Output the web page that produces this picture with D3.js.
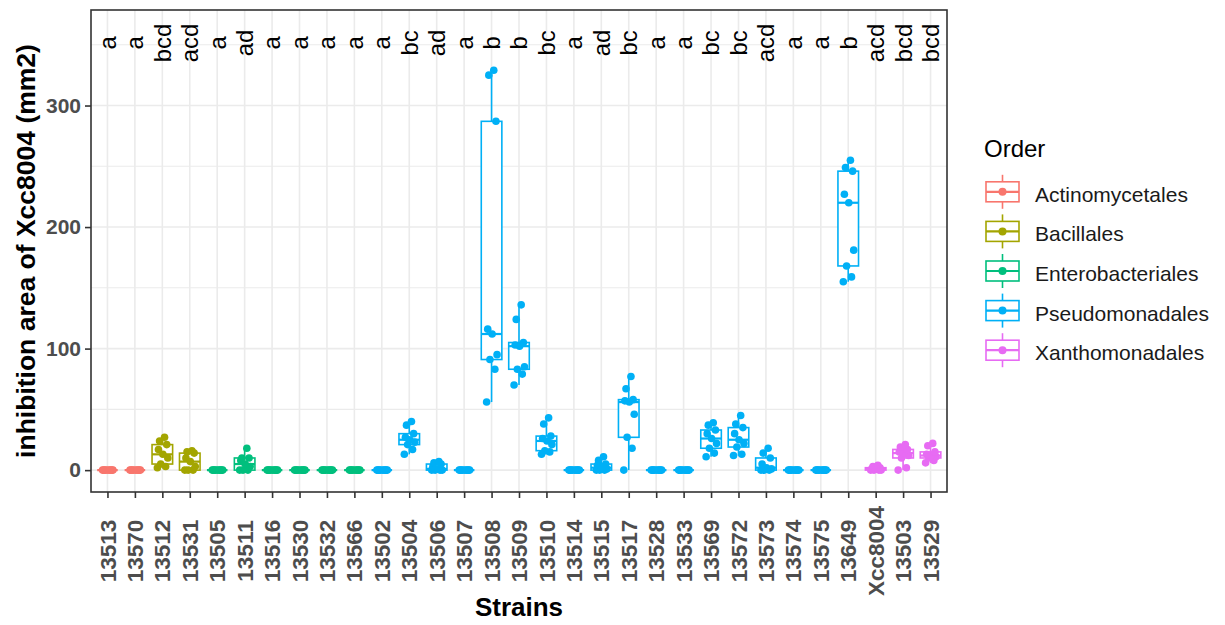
<!DOCTYPE html>
<html>
<head>
<meta charset="utf-8">
<script src="https://cdn.jsdelivr.net/npm/d3@7"></script>
<style>
  html, body { margin: 0; padding: 0; background: #fff; }
  svg { display: block; font-family: "Liberation Sans", Arial, sans-serif; }
</style>
</head>
<body>
<svg id="chart" width="1225" height="625"></svg>
<script>
// ---- data ----
const strains = ["13513","13570","13512","13531","13505","13511","13516","13530","13532","13566",
  "13502","13504","13506","13507","13508","13509","13510","13514","13515","13517","13528","13533",
  "13569","13572","13573","13574","13575","13649","Xcc8004","13503","13529"];
const strainOrder = ["Actinomycetales","Actinomycetales","Bacillales","Bacillales",
  "Enterobacteriales","Enterobacteriales","Enterobacteriales","Enterobacteriales","Enterobacteriales","Enterobacteriales",
  "Pseudomonadales","Pseudomonadales","Pseudomonadales","Pseudomonadales","Pseudomonadales","Pseudomonadales",
  "Pseudomonadales","Pseudomonadales","Pseudomonadales","Pseudomonadales","Pseudomonadales","Pseudomonadales",
  "Pseudomonadales","Pseudomonadales","Pseudomonadales","Pseudomonadales","Pseudomonadales","Pseudomonadales",
  "Xanthomonadales","Xanthomonadales","Xanthomonadales"];
const inhibition = [
  [0,0,0,0,0,0,0,0,0],                 // 13513
  [0,0,0,0,0,0,0,0,0],                 // 13570
  [2,3,5,10,13,17,21,24,27],           // 13512
  [0,0,0,3,7,10,14,15,16],             // 13531
  [0,0,0,0,0,0,0,0,0],                 // 13505
  [0,0,0,3,5,8,10,10,18],              // 13511
  [0,0,0,0,0,0,0,0,0],                 // 13516
  [0,0,0,0,0,0,0,0,0],                 // 13530
  [0,0,0,0,0,0,0,0,0],                 // 13532
  [0,0,0,0,0,0,0,0,0],                 // 13566
  [0,0,0,0,0,0,0,0,0],                 // 13502
  [13,17,21,23,25,27,30,37,40],        // 13504
  [0,0,0,0,1,3,5,6,7],                 // 13506
  [0,0,0,0,0,0,0,0,0],                 // 13507
  [56,83,91,95,112,116,287,325,329],   // 13508
  [70,79,83,85,102,103,105,124,136],   // 13509
  [13,15,16,21,24,26,28,38,43],        // 13510
  [0,0,0,0,0,0,0,0,0],                 // 13514
  [0,0,0,1,2,4,5,8,11],                // 13515
  [0,18,27,46,56,57,58,67,77],         // 13517
  [0,0,0,0,0,0,0,0,0],                 // 13528
  [0,0,0,0,0,0,0,0,0],                 // 13533
  [11,14,18,22,26,30,33,37,39],        // 13569
  [12,13,19,22,25,30,35,38,45],        // 13572
  [0,0,0,1,2,5,10,14,18],              // 13573
  [0,0,0,0,0,0,0,0,0],                 // 13574
  [0,0,0,0,0,0,0,0,0],                 // 13575
  [155,159,168,181,220,227,246,249,255], // 13649
  [0,0,0,0,1,1,2,3,4],                 // Xcc8004
  [0,2,10,12,14,15,17,19,21],          // 13503
  [6,8,10,11,12,13,15,20,22]           // 13529
];
const groupLetters = ["a","a","bcd","acd","a","ad","a","a","a","a","a","bc","ad","a","b","b","bc","a","ad","bc",
  "a","a","bc","bc","acd","a","a","b","acd","bcd","bcd"];
const orderNames = ["Actinomycetales","Bacillales","Enterobacteriales","Pseudomonadales","Xanthomonadales"];
const orderColors = ["#F8766D","#A3A500","#00BF7D","#00B0F6","#E76BF3"];
const yTicks = [0,100,200,300];
const yMinorTicks = [50,150,250,350];
const letterY = 351.5;
const jitterPattern = [-0.18,0.12,-0.06,0.2,0.02,-0.14,0.16,-0.1,0.08];

// ---- layout ----
const panel = {left: 91, right: 947, top: 10, bottom: 492};
const svg = d3.select("#chart");
const x = d3.scalePoint().domain(strains).range([panel.left, panel.right]).padding(0.6);
const step = x.step();
const y = d3.scaleLinear().domain([-18, 378.6]).range([panel.bottom, panel.top]);
const color = d3.scaleOrdinal().domain(orderNames).range(orderColors);

// panel background
svg.append("rect").attr("x", panel.left).attr("y", panel.top)
  .attr("width", panel.right - panel.left).attr("height", panel.bottom - panel.top).attr("fill", "#fff");

// grid
const grid = svg.append("g");
grid.selectAll("line.ymin").data(yMinorTicks).join("line")
  .attr("x1", panel.left).attr("x2", panel.right)
  .attr("y1", d => y(d)).attr("y2", d => y(d))
  .attr("stroke", "#EBEBEB").attr("stroke-width", 1.1);
grid.selectAll("line.ymaj").data(yTicks).join("line")
  .attr("x1", panel.left).attr("x2", panel.right)
  .attr("y1", d => y(d)).attr("y2", d => y(d))
  .attr("stroke", "#EBEBEB").attr("stroke-width", 1.6);
grid.selectAll("line.xmaj").data(strains).join("line")
  .attr("x1", d => x(d)).attr("x2", d => x(d))
  .attr("y1", panel.top).attr("y2", panel.bottom)
  .attr("stroke", "#EBEBEB").attr("stroke-width", 1.6);

// box stats
function stats(vals) {
  const s = vals.slice().sort(d3.ascending);
  const q1 = d3.quantile(s, 0.25), med = d3.quantile(s, 0.5), q3 = d3.quantile(s, 0.75);
  const iqr = q3 - q1;
  const lo = d3.min(s.filter(v => v >= q1 - 1.5 * iqr));
  const hi = d3.max(s.filter(v => v <= q3 + 1.5 * iqr));
  const out = s.filter(v => v < lo || v > hi);
  return {q1, med, q3, lo, hi, out};
}

const boxW = step * 0.75;
const boxes = svg.append("g");
strains.forEach((st, i) => {
  const c = color(strainOrder[i]);
  const s = stats(inhibition[i]);
  const cx = x(st);
  const g = boxes.append("g").attr("stroke", c).attr("stroke-width", 1.6).attr("fill", "#fff");
  g.append("line").attr("x1", cx).attr("x2", cx).attr("y1", y(s.q3)).attr("y2", y(s.hi));
  g.append("line").attr("x1", cx).attr("x2", cx).attr("y1", y(s.q1)).attr("y2", y(s.lo));
  g.append("rect").attr("x", cx - boxW / 2).attr("width", boxW)
    .attr("y", y(s.q3)).attr("height", Math.max(0, y(s.q1) - y(s.q3)));
  g.append("line").attr("x1", cx - boxW / 2).attr("x2", cx + boxW / 2)
    .attr("y1", y(s.med)).attr("y2", y(s.med)).attr("stroke-width", 2.2);
  g.selectAll("circle").data(s.out).join("circle")
    .attr("cx", cx).attr("cy", d => y(d)).attr("r", 3.8).attr("fill", c).attr("stroke", "none");
});

// jittered points
const pts = svg.append("g");
strains.forEach((st, i) => {
  const c = color(strainOrder[i]);
  pts.selectAll(null).data(inhibition[i]).join("circle")
    .attr("cx", (d, j) => x(st) + jitterPattern[j % jitterPattern.length] * step)
    .attr("cy", d => y(d)).attr("r", 3.8).attr("fill", c);
});

// letters
svg.append("g").selectAll("text").data(strains).join("text")
  .attr("transform", d => `translate(${x(d)},${y(letterY)}) rotate(-90)`)
  .attr("text-anchor", "middle").attr("dy", "0.35em")
  .attr("font-size", 24).attr("fill", "#000")
  .text((d, i) => groupLetters[i]);

// panel border
svg.append("rect").attr("x", panel.left).attr("y", panel.top)
  .attr("width", panel.right - panel.left).attr("height", panel.bottom - panel.top)
  .attr("fill", "none").attr("stroke", "#333333").attr("stroke-width", 1.6);

// y axis
const yAxis = svg.append("g").attr("transform", `translate(${panel.left},0)`)
  .call(d3.axisLeft(y).tickValues(yTicks).tickSize(6).tickPadding(4).tickFormat(d3.format("d")));
yAxis.select(".domain").remove();
yAxis.selectAll(".tick line").attr("stroke", "#333333").attr("stroke-width", 1.6);
yAxis.selectAll(".tick text").attr("font-size", 21).attr("font-weight", "bold")
  .attr("fill", "#4D4D4D").attr("font-family", "Liberation Sans, Arial, sans-serif");

// x axis
const xAxis = svg.append("g").attr("transform", `translate(0,${panel.bottom})`)
  .call(d3.axisBottom(x).tickSize(6).tickFormat(""));
xAxis.select(".domain").remove();
xAxis.selectAll(".tick line").attr("stroke", "#333333").attr("stroke-width", 1.6);
svg.append("g").selectAll("text").data(strains).join("text")
  .attr("transform", d => `translate(${x(d)},551) rotate(-90)`)
  .attr("text-anchor", "middle").attr("dy", "0.36em")
  .attr("font-size", 22.5).attr("font-weight", "bold").attr("fill", "#4D4D4D")
  .text(d => d);

// axis titles
svg.append("text").attr("x", (panel.left + panel.right) / 2).attr("y", 616)
  .attr("text-anchor", "middle").attr("font-size", 26).attr("font-weight", "bold")
  .text("Strains");
svg.append("text").attr("transform", `translate(35,${(panel.top + panel.bottom) / 2}) rotate(-90)`)
  .attr("text-anchor", "middle").attr("font-size", 26.5).attr("font-weight", "bold")
  .text("inhibition area of Xcc8004 (mm2)");

// legend
const lg = svg.append("g").attr("transform", "translate(984,0)");
lg.append("text").attr("x", 0).attr("y", 157).attr("font-size", 24).attr("fill", "#000").text("Order");
const rowY = d3.scaleBand().domain(orderNames).range([172, 370]).paddingInner(0);
orderNames.forEach((o, i) => {
  const c = orderColors[i];
  const cy = rowY(o) + rowY.bandwidth() / 2;
  const k = lg.append("g").attr("stroke", c).attr("stroke-width", 1.6);
  k.append("line").attr("x1", 18.5).attr("x2", 18.5).attr("y1", cy - 17).attr("y2", cy + 17);
  k.append("rect").attr("x", 2).attr("y", cy - 10).attr("width", 33).attr("height", 20).attr("fill", "#fff");
  k.append("line").attr("x1", 2).attr("x2", 35).attr("y1", cy).attr("y2", cy).attr("stroke-width", 2.2);
  k.append("circle").attr("cx", 18.5).attr("cy", cy).attr("r", 4).attr("fill", c).attr("stroke", "none");
  lg.append("text").attr("x", 51).attr("y", cy).attr("dy", "0.48em")
    .attr("font-size", 21).attr("fill", "#1a1a1a").text(o);
});
</script>
</body>
</html>
